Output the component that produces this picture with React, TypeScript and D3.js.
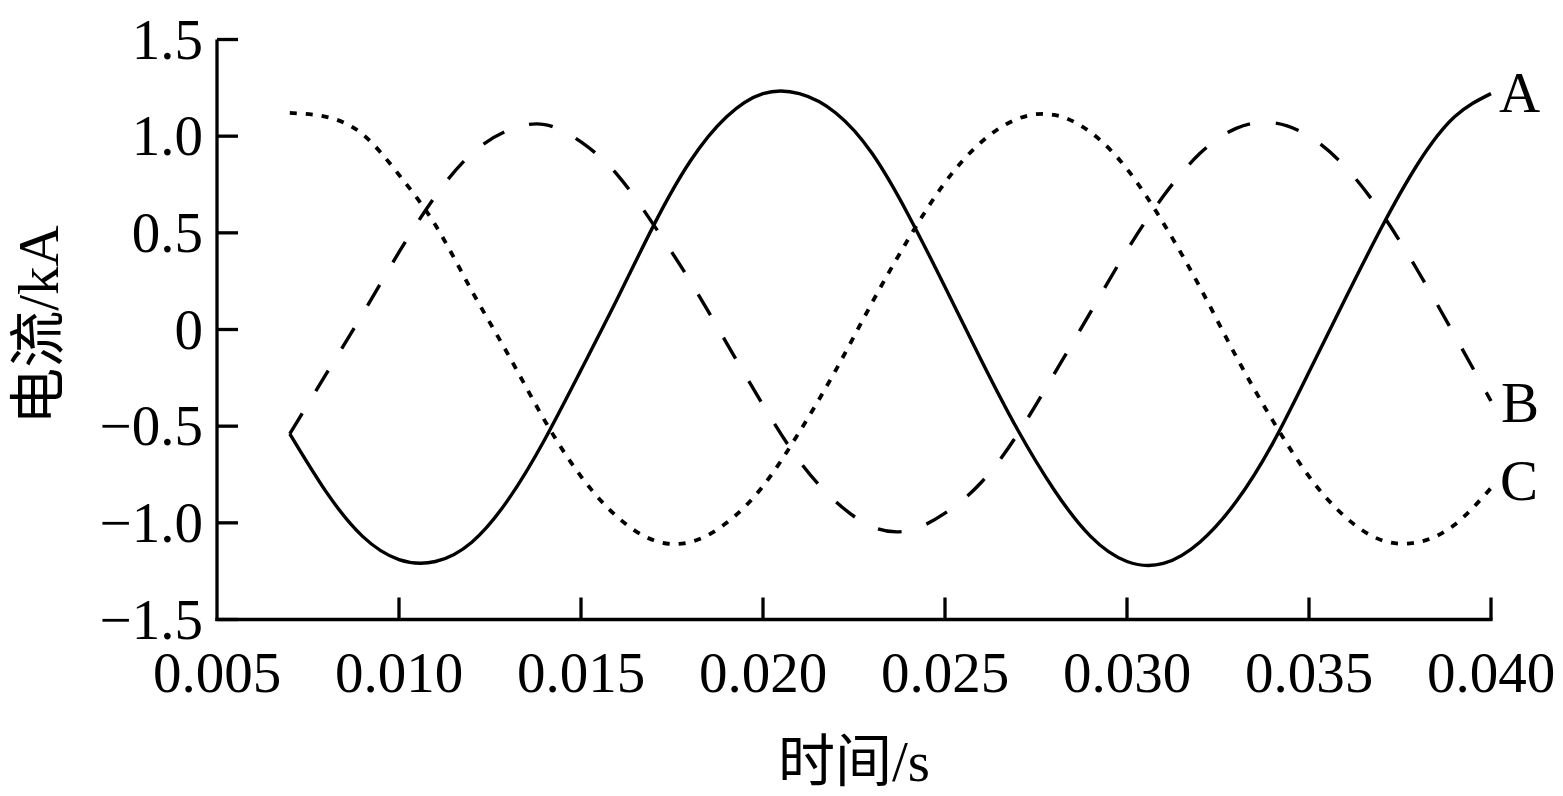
import React from "react";
import * as d3 from "d3";

// time samples (s)
const times = [
  0.007, 0.008, 0.009, 0.010, 0.011, 0.012, 0.013, 0.014, 0.015, 0.016,
  0.017, 0.018, 0.019, 0.020, 0.021, 0.022, 0.023, 0.024, 0.025, 0.026,
  0.027, 0.028, 0.029, 0.030, 0.031, 0.032, 0.033, 0.034, 0.035, 0.036,
  0.037, 0.038, 0.039, 0.040,
];

// phase A current (kA), solid
const currentA = [
  -0.54, -0.84, -1.07, -1.19, -1.20, -1.10, -0.88, -0.57, -0.21, 0.16,
  0.54, 0.87, 1.10, 1.22, 1.22, 1.12, 0.91, 0.59, 0.22, -0.16,
  -0.52, -0.83, -1.07, -1.20, -1.21, -1.10, -0.89, -0.59, -0.22, 0.16,
  0.53, 0.86, 1.10, 1.22,
];

// phase B current (kA), dashed
const currentB = [
  -0.54, -0.23, 0.08, 0.40, 0.69, 0.91, 1.03, 1.06, 0.97, 0.80,
  0.54, 0.25, -0.07, -0.39, -0.68, -0.89, -1.02, -1.04, -0.95, -0.79,
  -0.54, -0.23, 0.09, 0.41, 0.69, 0.91, 1.04, 1.07, 1.00, 0.84,
  0.60, 0.30, -0.03, -0.37,
];

// phase C current (kA), dotted
const currentC = [
  1.12, 1.10, 1.01, 0.80, 0.54, 0.20, -0.13, -0.47, -0.76, -0.97,
  -1.09, -1.10, -1.00, -0.81, -0.53, -0.21, 0.14, 0.47, 0.76, 0.97,
  1.09, 1.11, 1.02, 0.83, 0.55, 0.22, -0.14, -0.47, -0.76, -0.97,
  -1.09, -1.10, -1.01, -0.82,
];

const seriesNames = ["A", "B", "C"];
const xTicks = [0.005, 0.010, 0.015, 0.020, 0.025, 0.030, 0.035, 0.040];
const yTicks = [-1.5, -1.0, -0.5, 0, 0.5, 1.0, 1.5];
const yTickLabels = ["\u22121.5", "\u22121.0", "\u22120.5", "0", "0.5", "1.0", "1.5"];
const xTitle = "时间/s";
const yTitle = "电流/kA";

const FONT = "'Times New Roman', 'Liberation Serif', 'Noto Sans CJK SC', serif";

export default function App() {
  const W = 1563;
  const H = 796;
  const x = d3.scaleLinear().domain([0.005, 0.04]).range([217, 1491]);
  const y = d3.scaleLinear().domain([-1.5, 1.5]).range([619.5, 39.5]);

  const line = d3
    .line<number>()
    .x((_, i) => x(times[i]))
    .y((d) => y(d))
    .curve(d3.curveNatural);

  const series = [
    { name: seriesNames[0], values: currentA, dash: null as string | null, width: 3.4 },
    { name: seriesNames[1], values: currentB, dash: "24 26", width: 3.4 },
    { name: seriesNames[2], values: currentC, dash: "7 9", width: 3.8 },
  ];

  const fmtX = d3.format(".3f");
  const labelPos = [
    { x: 1499, y: 112 },
    { x: 1501, y: 422 },
    { x: 1500, y: 500 },
  ];

  return (
    <svg
      width={W}
      height={H}
      viewBox={`0 0 ${W} ${H}`}
      style={{ position: "absolute", left: 0, top: 0, background: "#fff" }}
    >
      <rect x={0} y={0} width={W} height={H} fill="#fff" />
      {/* axes */}
      <g stroke="#000" strokeWidth={3.3} fill="none">
        <line x1={x(0.005)} x2={x(0.005)} y1={y(1.5)} y2={y(-1.5) + 1.6} />
        <line x1={x(0.005) - 1.6} x2={x(0.04) + 1.6} y1={y(-1.5)} y2={y(-1.5)} />
        {yTicks.map((t) => (
          <line key={"yt" + t} x1={x(0.005)} x2={x(0.005) + 21} y1={y(t)} y2={y(t)} />
        ))}
        {xTicks.slice(1).map((t) => (
          <line key={"xt" + t} x1={x(t)} x2={x(t)} y1={y(-1.5)} y2={y(-1.5) - 22} />
        ))}
      </g>
      {/* tick labels */}
      <g fontFamily={FONT} fontSize={57} fill="#000">
        {yTicks.map((t, i) => (
          <text key={"yl" + t} x={203} y={y(t) + 19} textAnchor="end">
            {yTickLabels[i]}
          </text>
        ))}
        {xTicks.map((t) => (
          <text key={"xl" + t} x={x(t)} y={692} textAnchor="middle">
            {fmtX(t)}
          </text>
        ))}
        <text x={854} y={781} textAnchor="middle">
          {xTitle}
        </text>
        <text transform="translate(58,325) rotate(-90)" textAnchor="middle">
          {yTitle}
        </text>
        {seriesNames.map((n, i) => (
          <text key={"sl" + n} x={labelPos[i].x} y={labelPos[i].y}>
            {n}
          </text>
        ))}
      </g>
      {/* curves */}
      <g fill="none" stroke="#000">
        {series.map((s) => (
          <path
            key={s.name}
            d={line(s.values) || ""}
            strokeWidth={s.width}
            strokeDasharray={s.dash || undefined}
            strokeLinejoin="round"
          />
        ))}
      </g>
    </svg>
  );
}
